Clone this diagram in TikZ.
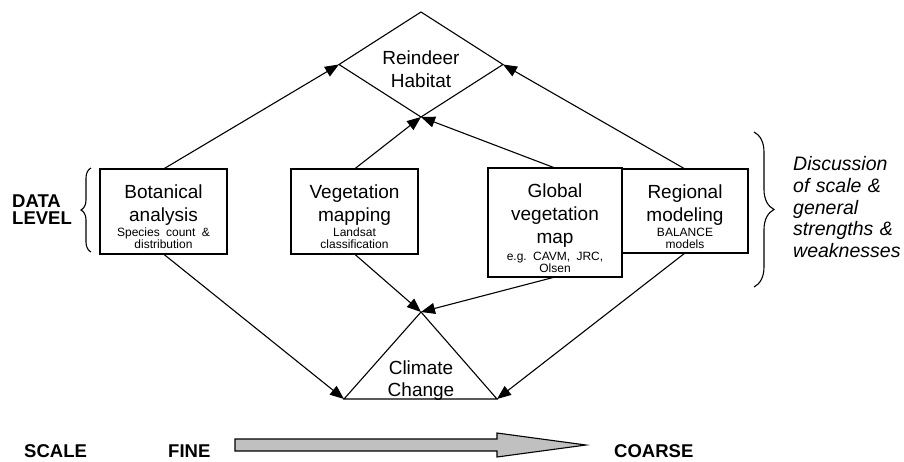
\documentclass[tikz,border=0pt]{standalone}
\usepackage{fontspec}
\setmainfont{Liberation Sans}
\usepackage{tikz}
\usetikzlibrary{arrows.meta,positioning,shapes.geometric,decorations.pathreplacing}
\definecolor{cScale}{HTML}{C0C0C0}
\frenchspacing
\newcommand\bigtxt{\fontsize{19}{23}\selectfont}
\newcommand\subtxt[1]{{\fontsize{12}{12.5}\selectfont\begin{tabular}[t]{@{}c@{}}#1\end{tabular}}}
\tikzset{
  databox/.style={rectangle, draw, line width=1.1pt, align=center, font=\bigtxt,
                  text width=#1, inner xsep=2pt, inner ysep=0pt, outer sep=0pt,
                  text height=29pt, anchor=north west},
  flow/.style={-{Triangle[length=14pt,width=11pt]}, line width=1.1pt},
  tag/.style={font=\fontsize{18.5}{17}\selectfont\bfseries, text width=90pt,
              align=left, inner sep=0pt, anchor=base west},
  curly/.style={decorate, decoration={brace, amplitude=#1}, line width=1.1pt},
}

\begin{document}
\begin{tikzpicture}[x=1pt,y=-1pt]
  \useasboundingbox (0,0) rectangle (904,461);
  \node[diamond, draw, line width=1.1pt, minimum width=164pt, minimum height=105pt,
        aspect=1.56, inner sep=0pt, outer sep=0pt, font=\bigtxt, text width=90pt,
        align=center, text height=20pt, text depth=21pt] (habitat) at (421,64.5)
        {Reindeer\\Habitat};

  \node[databox=123pt, text depth=56pt] (bot) at (100,169)
    {Botanical\\analysis\\[-8pt]\subtxt{Species count \&\\distribution}};
  \node[databox=123pt, text depth=56pt, right=64pt of bot.north east, anchor=north west] (veg)
    {Vegetation\\mapping\\[-8pt]\subtxt{Landsat\\classification}};
  \node[databox=130pt, text depth=80pt] (glo) at (488,168)
    {Global\\vegetation\\map\\[-6pt]\subtxt{e.g. CAVM, JRC,\\Olsen}};
  \node[databox=122pt, text depth=55pt] (reg) at (622,169)
    {Regional\\modeling\\[-8pt]\subtxt{BALANCE\\models}};

  \coordinate (cc-top) at (421,312);
  \coordinate (cc-left) at (344,399);
  \coordinate (cc-right) at (497,399);
  \draw[line width=1.1pt, line join=miter] (cc-top) -- (cc-left) -- (cc-right) -- cycle;
  \node[font=\fontsize{19}{22}\selectfont, text width=80pt, align=center, inner sep=0pt,
        anchor=base] (climate) at (421,374) {Climate\\Change};

  \draw[flow] (bot.north) -- (habitat.west);
  \draw[flow] (reg.north) -- (habitat.east);
  \draw[flow] (veg.north) -- (habitat.south);
  \draw[flow] (glo.north) -- (habitat.south);
  \draw[flow] (bot.south) -- (cc-left);
  \draw[flow] (veg.south) -- (cc-top);
  \draw[flow] (glo.south) -- (cc-top);
  \draw[flow] (reg.south) -- (cc-right);

  \node[tag] (data) at (12,207) {DATA\\LEVEL};
  \draw[curly=10pt] (91,252) -- (91,168);
  \draw[curly=20pt] (754,132) -- (754,287);
  \node[font=\fontsize{19.5}{21.7}\selectfont\itshape, text width=115pt, align=left,
        inner sep=0pt, anchor=base west] (discuss) at (793,170.7)
        {Discussion\\of scale \&\\general\\strengths \&\\weaknesses};

  \node[tag] (scale) at (24,457.5) {SCALE};
  \node[tag] (fine) at (168,457.5) {FINE};
  \node[tag] (coarse) at (614,457.5) {COARSE};
  \draw[fill=cScale, line width=1.1pt] (235,439) -- (497,439) -- (497,433) -- (586,445)
    -- (497,457) -- (497,451) -- (235,451) -- cycle;
\end{tikzpicture}
\end{document}
